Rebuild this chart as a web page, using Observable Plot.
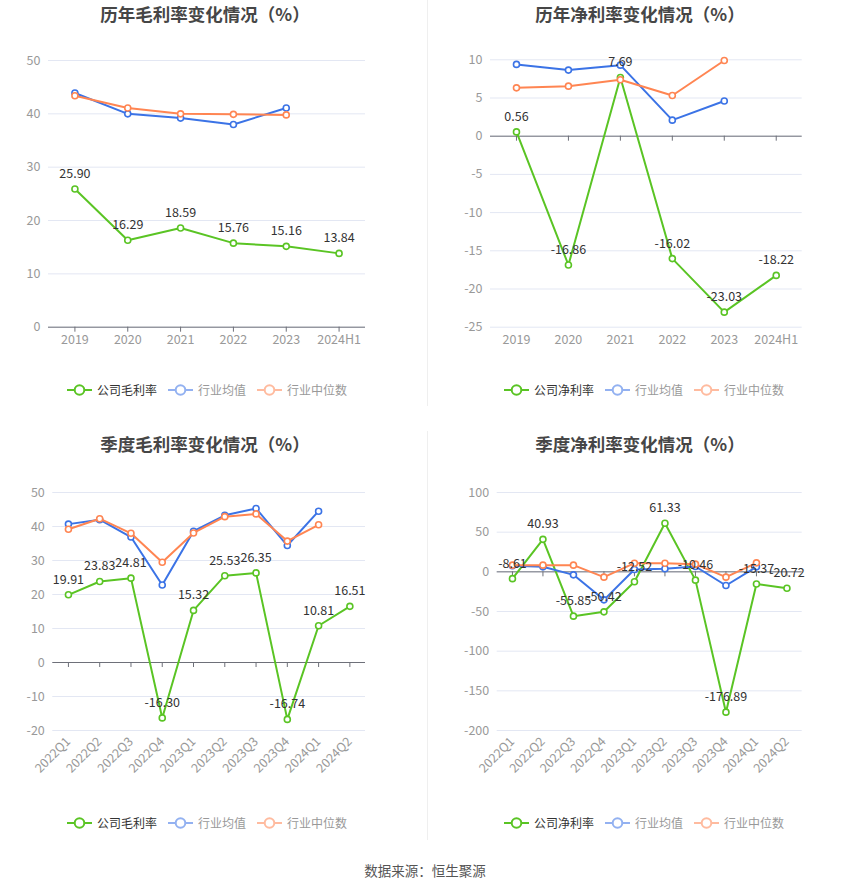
<!DOCTYPE html>
<html>
<head>
<meta charset="utf-8">
<script src="https://cdn.jsdelivr.net/npm/d3@7"></script>
<script src="https://cdn.jsdelivr.net/npm/@observablehq/plot@0.6"></script>
<style>
  html, body { margin: 0; padding: 0; background: #fff; }
  body { font-family: "Noto Sans CJK SC", "Noto Sans", sans-serif; }
  #root { position: relative; width: 850px; height: 891px; overflow: hidden; }
  .title { position: absolute; font-size: 17.5px; font-weight: bold; color: #464646; text-align: center; white-space: nowrap; line-height: 28px; }
  .panel { position: absolute; }
  .legend { position: absolute; display: flex; align-items: center; font-size: 12px; line-height: 16px; white-space: nowrap; }
  .legend .item { display: flex; align-items: center; margin-right: 11px; }
  .legend .item svg { margin-right: 5px; }
  .divider { position: absolute; width: 1px; background: #efefef; }
  .footer { position: absolute; left: 0; width: 850px; text-align: center; font-size: 13.5px; color: #555; top: 860px; line-height: 20px; }
</style>
</head>
<body>
<div id="root"></div>
<script>
// ---------- data ----------
const yearCats = ["2019", "2020", "2021", "2022", "2023", "2024H1"];
const quarterCats = ["2022Q1", "2022Q2", "2022Q3", "2022Q4", "2023Q1", "2023Q2", "2023Q3", "2023Q4", "2024Q1", "2024Q2"];

// 历年毛利率
const grossYearCompany = [25.90, 16.29, 18.59, 15.76, 15.16, 13.84];
const grossYearAvg     = [43.9, 40.0, 39.2, 38.0, 41.1];
const grossYearMedian  = [43.4, 41.1, 40.0, 39.9, 39.8];

// 历年净利率
const netYearCompany = [0.56, -16.86, 7.69, -16.02, -23.03, -18.22];
const netYearAvg     = [9.4, 8.65, 9.3, 2.1, 4.6];
const netYearMedian  = [6.33, 6.55, 7.38, 5.33, 9.91];

// 季度毛利率
const grossQCompany = [19.91, 23.83, 24.81, -16.30, 15.32, 25.53, 26.35, -16.74, 10.81, 16.51];
const grossQAvg     = [40.7, 42.0, 36.9, 22.8, 38.6, 43.3, 45.3, 34.4, 44.5];
const grossQMedian  = [39.2, 42.3, 38.0, 29.5, 38.1, 42.9, 43.7, 35.7, 40.5];

// 季度净利率
const netQCompany = [-8.61, 40.93, -55.85, -50.42, -12.52, 61.33, -10.46, -176.89, -15.37, -20.72];
const netQAvg     = [7.6, 6.3, -3.8, -35.3, 2.9, 3.8, 6.7, -17.2, 6.3];
const netQMedian  = [8.4, 8.4, 8.4, -6.7, 10.9, 10.9, 9.7, -6.7, 11.3];

const ticksGrossYear = [0, 10, 20, 30, 40, 50];
const ticksNetYear = [-25, -20, -15, -10, -5, 0, 5, 10];
const ticksGrossQ = [-20, -10, 0, 10, 20, 30, 40, 50];
const ticksNetQ = [-200, -150, -100, -50, 0, 50, 100];

const titles = ["历年毛利率变化情况（%）", "历年净利率变化情况（%）", "季度毛利率变化情况（%）", "季度净利率变化情况（%）"];
const legendGross = ["公司毛利率", "行业均值", "行业中位数"];
const legendNet = ["公司净利率", "行业均值", "行业中位数"];
const footerText = "数据来源：恒生聚源";

// ---------- styles ----------
const GREEN = "#5ac424";
const BLUE = "#3b73e6";
const ORANGE = "#ff8552";
const GRID = "#e3e7f3";
const AXIS = "#6e7079";
const LABEL = "#999";

const root = document.getElementById("root");

function toRows(cats, vals) {
  return vals.map((v, i) => ({x: cats[i], y: v}));
}

function makeChart(cfg) {
  const company = toRows(cfg.cats, cfg.company);
  const avg = toRows(cfg.cats, cfg.avg);
  const median = toRows(cfg.cats, cfg.median);
  const rotate = cfg.rotate;
  const chart = Plot.plot({
    width: 425,
    height: 360,
    marginTop: cfg.mt,
    marginBottom: cfg.mb,
    marginLeft: cfg.ml,
    marginRight: cfg.mr,
    style: {fontFamily: '"Noto Sans CJK SC", "Noto Sans", sans-serif', fontSize: "12px", background: "transparent", overflow: "visible"},
    x: {type: "point", domain: cfg.cats, padding: 0.5, round: false, axis: null},
    y: {domain: cfg.ydomain, axis: null},
    marks: [
      Plot.ruleY(cfg.yticks, {stroke: GRID, strokeWidth: 1}),
      Plot.axisY({ticks: cfg.yticks, tickSize: 0, tickPadding: 8, fill: LABEL, fontSize: 12.5, tickFormat: d => String(d), label: null}),
      Plot.axisX({
        ticks: cfg.cats, tickSize: 0, tickPadding: rotate ? 9 : 8, fill: LABEL, fontSize: 12.5,
        tickRotate: rotate ? -45 : 0, label: null,
        ...(rotate ? {textAnchor: "end"} : {})
      }),
      Plot.ruleY([0], {stroke: AXIS, strokeWidth: 1}),
      Plot.ruleX(cfg.cats, {x: d => d, y1: 0, y2: 0, insetBottom: -5, stroke: AXIS, strokeWidth: 1}),
      Plot.line(company, {x: "x", y: "y", stroke: GREEN, strokeWidth: 2}),
      Plot.dot(company, {x: "x", y: "y", r: 3, fill: "#fff", stroke: GREEN, strokeWidth: 1.6}),
      Plot.line(avg, {x: "x", y: "y", stroke: BLUE, strokeWidth: 2}),
      Plot.dot(avg, {x: "x", y: "y", r: 3, fill: "#fff", stroke: BLUE, strokeWidth: 1.6}),
      Plot.line(median, {x: "x", y: "y", stroke: ORANGE, strokeWidth: 2}),
      Plot.dot(median, {x: "x", y: "y", r: 3, fill: "#fff", stroke: ORANGE, strokeWidth: 1.6}),
      Plot.text(company, {x: "x", y: "y", text: d => d.y.toFixed(2), dy: -15, fill: "#333", fontSize: 12.5})
    ]
  });
  const wrap = document.createElement("div");
  wrap.className = "panel";
  wrap.style.left = cfg.left + "px";
  wrap.style.top = cfg.top + "px";
  wrap.appendChild(chart);
  root.appendChild(wrap);

  const t = document.createElement("div");
  t.className = "title";
  t.textContent = cfg.title;
  t.style.left = (cfg.left + cfg.titleCx - 150) + "px";
  t.style.width = "300px";
  t.style.top = (cfg.top + cfg.titleY - 14) + "px";
  root.appendChild(t);

  const lg = document.createElement("div");
  lg.className = "legend";
  lg.style.left = (cfg.left + cfg.legendX) + "px";
  lg.style.top = (cfg.top + cfg.legendY - 8) + "px";
  const cols = [GREEN, BLUE, ORANGE];
  cfg.legend.forEach((name, i) => {
    const item = document.createElement("div");
    item.className = "item";
    const op = i === 0 ? 1 : 0.55;
    item.innerHTML = `<svg width="25" height="14" viewBox="0 0 25 14"><g opacity="${op}"><line x1="0" y1="7" x2="25" y2="7" stroke="${cols[i]}" stroke-width="2"/><circle cx="12.5" cy="7" r="4.8" fill="#fff" stroke="${cols[i]}" stroke-width="2"/></g></svg><span style="color:${i === 0 ? '#333' : '#999'}">${name}</span>`;
    lg.appendChild(item);
  });
  root.appendChild(lg);
}

makeChart({left: 0, top: 0, cats: yearCats, company: grossYearCompany, avg: grossYearAvg, median: grossYearMedian,
  ydomain: [0, 50], yticks: ticksGrossYear, mt: 60, mb: 33.3, ml: 48, mr: 60, rotate: false,
  title: titles[0], titleCx: 205, titleY: 14, legend: legendGross, legendX: 67, legendY: 390});
makeChart({left: 425, top: 0, cats: yearCats, company: netYearCompany, avg: netYearAvg, median: netYearMedian,
  ydomain: [-25, 10], yticks: ticksNetYear, mt: 59.3, mb: 33.3, ml: 65, mr: 48.3, rotate: false,
  title: titles[1], titleCx: 215, titleY: 14, legend: legendNet, legendX: 79, legendY: 390});
makeChart({left: 0, top: 430, cats: quarterCats, company: grossQCompany, avg: grossQAvg, median: grossQMedian,
  ydomain: [-20, 50], yticks: ticksGrossQ, mt: 62, mb: 60, ml: 52.3, mr: 60, rotate: true,
  title: titles[2], titleCx: 205, titleY: 14, legend: legendGross, legendX: 67, legendY: 393});
makeChart({left: 425, top: 430, cats: quarterCats, company: netQCompany, avg: netQAvg, median: netQMedian,
  ydomain: [-200, 100], yticks: ticksNetQ, mt: 62, mb: 60, ml: 71.7, mr: 48.3, rotate: true,
  title: titles[3], titleCx: 215, titleY: 14, legend: legendNet, legendX: 79, legendY: 393});

// dividers
[[0, 406], [431, 840]].forEach(([a, b]) => {
  const d = document.createElement("div");
  d.className = "divider";
  d.style.left = "427px";
  d.style.top = a + "px";
  d.style.height = (b - a) + "px";
  root.appendChild(d);
});

const f = document.createElement("div");
f.className = "footer";
f.textContent = footerText;
root.appendChild(f);
</script>
</body>
</html>
